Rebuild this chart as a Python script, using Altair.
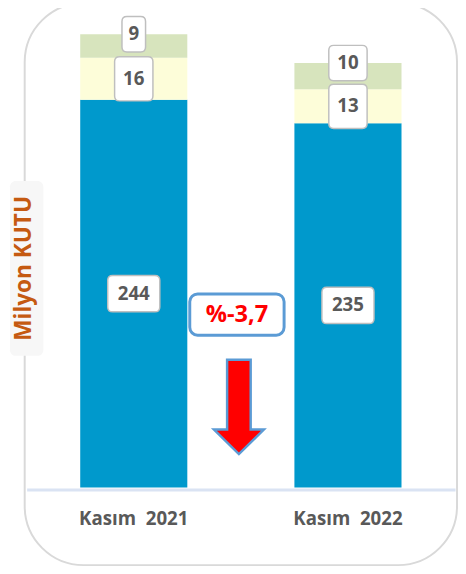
import altair as alt
import pandas as pd

# ---- data ----
periods = ["Kasım 2021", "Kasım 2022"]
series = ["A", "B", "C"]            # bottom (blue), middle (yellow), top (green)
blue_vals = [244, 235]
yellow_vals = [16, 13]
green_vals = [9, 10]
change_label = "%-3,7"
y_title = "Milyon KUTU"

# ---- styles ----
Y_MIN, Y_MAX = 96, 270
colors = ["#0099CC", "#FDFDD9", "#D7E4BD"]
box_h = {"A": 37, "B": 45, "C": 36}
box_w = {1: 24, 2: 39, 3: 53}
SYM = 10000  # symbol size -> unit = 50px
U = (SYM ** 0.5) / 2


def rr_path(w, h, r=5):
    hw, hh, q = w / 2 / U, h / 2 / U, r / U
    return (f"M{-hw+q:.4f},{-hh:.4f} L{hw-q:.4f},{-hh:.4f} Q{hw:.4f},{-hh:.4f} {hw:.4f},{-hh+q:.4f} "
            f"L{hw:.4f},{hh-q:.4f} Q{hw:.4f},{hh:.4f} {hw-q:.4f},{hh:.4f} "
            f"L{-hw+q:.4f},{hh:.4f} Q{-hw:.4f},{hh:.4f} {-hw:.4f},{hh-q:.4f} "
            f"L{-hw:.4f},{-hh+q:.4f} Q{-hw:.4f},{-hh:.4f} {-hw+q:.4f},{-hh:.4f} Z")


rows = []
for i, p in enumerate(periods):
    lo = 0
    for s, vals in zip(series, [blue_vals, yellow_vals, green_vals]):
        v = vals[i]
        hi = lo + v
        if s == "C":
            ly = hi
        else:
            ly = (max(lo, Y_MIN) + hi) / 2
        lab = str(v)
        rows.append(dict(period=p, series=s, value=v, lo=lo, hi=hi, label_y=ly,
                         label=lab, path=rr_path(box_w[len(lab)], box_h[s])))
        lo = hi
df = pd.DataFrame(rows)

W, H = 436, 464

xenc = alt.X("period:N", sort=periods,
             scale=alt.Scale(paddingInner=0.5, paddingOuter=0.25),
             axis=alt.Axis(title=None, ticks=False, domainColor="#DAE3F3", domainWidth=3,
                           offset=2, labelPadding=21, labelFont="Open Sans", labelFontSize=19,
                           labelFontWeight="bold", labelColor="#595959", labelAngle=0,
                           labelExpr="replace(datum.label, ' ', '\u00a0 ')"))
yscale = alt.Scale(domain=[Y_MIN, Y_MAX], clamp=True, nice=False, zero=False)

base = alt.Chart(df)

bars = base.mark_bar().encode(
    x=xenc,
    y=alt.Y("lo:Q", scale=yscale, axis=None),
    y2="hi:Q",
    color=alt.Color("series:N", scale=alt.Scale(domain=series, range=colors), legend=None),
)

boxes = base.mark_point(filled=True, fill="white", stroke="#BFBFBF", strokeWidth=1.5,
                        size=SYM, opacity=1).encode(
    x=alt.X("period:N", sort=periods),
    y=alt.Y("label_y:Q", scale=yscale),
    shape=alt.Shape("path:N", scale=None),
)

texts = base.mark_text(font="Open Sans", fontWeight="bold", fontSize=19, color="#595959",
                       baseline="middle").encode(
    x=alt.X("period:N", sort=periods),
    y=alt.Y("label_y:Q", scale=yscale),
    text="label:N",
)

one = pd.DataFrame({"t": [change_label]})

frame = alt.Chart(one).mark_rect(fillOpacity=0, stroke="#D9D9D9", strokeWidth=2,
                                 cornerRadius=60).encode(
    x=alt.value(-2), x2=alt.value(438), y=alt.value(-29), y2=alt.value(543))

title_bg = alt.Chart(one).mark_rect(fill="#F7F7F7", cornerRadius=6).encode(
    x=alt.value(-17), x2=alt.value(17), y=alt.value(152), y2=alt.value(330))

title_txt = alt.Chart(pd.DataFrame({"t": [y_title]})).mark_text(
    font="Open Sans", fontWeight="bold", fontSize=23, color="#C55A11", angle=270,
    align="center", baseline="middle").encode(
    x=alt.value(-3), y=alt.value(241), text="t:N")

pct_box = alt.Chart(one).mark_rect(fill="white", stroke="#5B9BD5", strokeWidth=3,
                                   cornerRadius=8).encode(
    x=alt.value(166), x2=alt.value(262), y=alt.value(267), y2=alt.value(309))

pct_txt = alt.Chart(one).mark_text(font="Open Sans", fontWeight="bold", fontSize=24,
                                   color="#FF0000", baseline="middle").encode(
    x=alt.value(214), y=alt.value(289), text="t:N")

arrow_path = "M-0.25,-1 L0.25,-1 L0.25,0.48 L0.53,0.48 L0,1 L-0.53,0.48 L-0.25,0.48 Z"
arrow = alt.Chart(one).mark_point(shape=arrow_path, size=96 * 96, filled=True, fill="#FF0000",
                                  stroke="#5B9BD5", strokeWidth=2.5, opacity=1).encode(
    x=alt.value(216), y=alt.value(382))

chart = alt.layer(frame, title_bg, title_txt, bars, boxes, texts, pct_box, pct_txt, arrow).properties(
    width=W, height=H,
    autosize=alt.AutoSizeParams(type="none"),
    padding={"left": 19, "top": 19, "right": 3, "bottom": 83},
    background="white",
).configure_view(stroke=None)

chart.save("out.html", embed_options={"renderer": "svg", "actions": False})
